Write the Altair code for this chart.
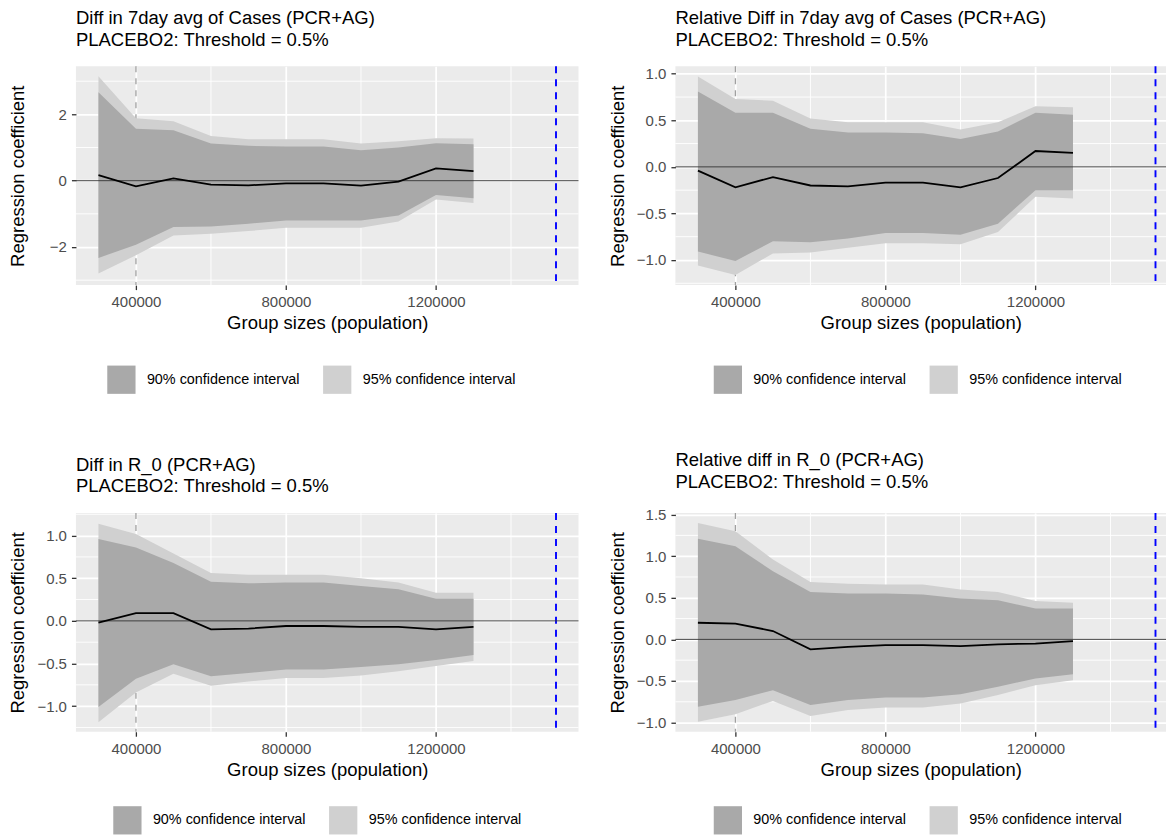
import altair as alt
import pandas as pd

# ---------------- data ----------------
group_sizes = [300000, 400000, 500000, 600000, 700000, 800000,
               900000, 1000000, 1100000, 1200000, 1300000]

x_breaks = [400000, 800000, 1200000]
x_minor = [600000, 1000000, 1400000]
x_domain_left = [240000, 1580000]
x_domain_right = [240000, 1548000]
ref_gray = [400000]
ref_blue = [1520000]
zero_line = [0]

ci_labels = ["90% confidence interval", "95% confidence interval"]
ci_colors = ["#A9A9A9", "#D0D0D0"]

# top-left: Diff in 7day avg of Cases
tl_title = ["Diff in 7day avg of Cases (PCR+AG)", "PLACEBO2: Threshold = 0.5%"]
tl_coef = [0.17, -0.17, 0.07, -0.12, -0.14, -0.08, -0.08, -0.15, -0.03, 0.37, 0.29]
tl_hi90 = [2.67, 1.57, 1.52, 1.12, 1.05, 1.03, 1.03, 0.92, 1.00, 1.13, 1.10]
tl_hi95 = [3.15, 1.88, 1.79, 1.35, 1.25, 1.25, 1.25, 1.12, 1.19, 1.28, 1.27]
tl_lo90 = [-2.33, -1.93, -1.40, -1.38, -1.30, -1.20, -1.20, -1.20, -1.05, -0.43, -0.53]
tl_lo95 = [-2.80, -2.25, -1.65, -1.60, -1.52, -1.42, -1.42, -1.42, -1.23, -0.57, -0.67]
tl_ydomain = [-3.15, 3.45]
tl_ybreaks = [-2, 0, 2]
tl_yminor = [-3, -1, 1, 3]

# top-right: Relative Diff in 7day avg of Cases
tr_title = ["Relative Diff in 7day avg of Cases (PCR+AG)", "PLACEBO2: Threshold = 0.5%"]
tr_coef = [-0.04, -0.22, -0.11, -0.20, -0.21, -0.17, -0.17, -0.22, -0.12, 0.17, 0.15]
tr_hi90 = [0.81, 0.58, 0.58, 0.41, 0.37, 0.37, 0.36, 0.30, 0.38, 0.58, 0.56]
tr_hi95 = [0.97, 0.73, 0.71, 0.52, 0.48, 0.48, 0.48, 0.40, 0.48, 0.65, 0.64]
tr_lo90 = [-0.91, -1.01, -0.80, -0.81, -0.77, -0.71, -0.71, -0.73, -0.61, -0.25, -0.25]
tr_lo95 = [-1.06, -1.16, -0.93, -0.92, -0.87, -0.82, -0.82, -0.83, -0.70, -0.32, -0.34]
tr_ydomain = [-1.27, 1.08]
tr_ybreaks = [-1.0, -0.5, 0.0, 0.5, 1.0]
tr_yminor = [-1.25, -0.75, -0.25, 0.25, 0.75]

# bottom-left: Diff in R_0
bl_title = ["Diff in R_0 (PCR+AG)", "PLACEBO2: Threshold = 0.5%"]
bl_coef = [-0.02, 0.09, 0.09, -0.10, -0.09, -0.06, -0.06, -0.07, -0.07, -0.10, -0.07]
bl_hi90 = [0.96, 0.86, 0.68, 0.46, 0.44, 0.45, 0.45, 0.41, 0.37, 0.26, 0.26]
bl_hi95 = [1.14, 1.02, 0.79, 0.56, 0.54, 0.54, 0.54, 0.50, 0.45, 0.33, 0.33]
bl_lo90 = [-1.01, -0.68, -0.51, -0.65, -0.61, -0.57, -0.57, -0.54, -0.51, -0.46, -0.40]
bl_lo95 = [-1.19, -0.84, -0.62, -0.76, -0.71, -0.67, -0.67, -0.64, -0.59, -0.53, -0.47]
bl_ydomain = [-1.30, 1.266]
bl_ybreaks = [-1.0, -0.5, 0.0, 0.5, 1.0]
bl_yminor = [-1.25, -0.75, -0.25, 0.25, 0.75, 1.25]

# bottom-right: Relative diff in R_0
br_title = ["Relative diff in R_0 (PCR+AG)", "PLACEBO2: Threshold = 0.5%"]
br_coef = [0.20, 0.19, 0.10, -0.12, -0.09, -0.07, -0.07, -0.08, -0.06, -0.05, -0.02]
br_hi90 = [1.21, 1.12, 0.82, 0.57, 0.55, 0.55, 0.54, 0.49, 0.47, 0.37, 0.37]
br_hi95 = [1.40, 1.30, 0.96, 0.69, 0.67, 0.66, 0.66, 0.60, 0.57, 0.46, 0.44]
br_lo90 = [-0.81, -0.73, -0.61, -0.79, -0.73, -0.70, -0.70, -0.66, -0.57, -0.47, -0.42]
br_lo95 = [-0.99, -0.90, -0.74, -0.92, -0.85, -0.82, -0.82, -0.77, -0.67, -0.55, -0.49]
br_ydomain = [-1.11, 1.52]
br_ybreaks = [-1.0, -0.5, 0.0, 0.5, 1.0, 1.5]
br_yminor = [-0.75, -0.25, 0.25, 0.75, 1.25]

FONT = "Liberation Sans"


def make_panel(title, coef, lo90, hi90, lo95, hi95, ydom, ybreaks, yminor,
               yfmt, xdom, width, legend_x, legend_y):
    df = pd.DataFrame({
        "size": group_sizes, "coef": coef,
        "lo90": lo90, "hi90": hi90, "lo95": lo95, "hi95": hi95,
        "ci90": ci_labels[0], "ci95": ci_labels[1],
    })
    xscale = alt.Scale(domain=xdom, nice=False, zero=False)
    yscale = alt.Scale(domain=ydom, nice=False, zero=False)
    xaxis = alt.Axis(values=x_breaks, format="d", title="Group sizes (population)")
    yaxis = alt.Axis(values=ybreaks, format=yfmt, title="Regression coefficient",
                     minExtent=44, maxExtent=44)
    color_scale = alt.Scale(domain=ci_labels, range=ci_colors)

    def X(f):
        return alt.X(f, type="quantitative", scale=xscale, axis=xaxis)

    def Y(f):
        return alt.Y(f, type="quantitative", scale=yscale, axis=yaxis)

    legend = alt.Legend(
        title=None, orient="none", legendX=legend_x, legendY=legend_y,
        direction="horizontal", symbolType="square", symbolSize=800,
        symbolStrokeWidth=0, symbolOpacity=1, labelFontSize=14.4,
        labelColor="black", labelFont=FONT, labelOffset=11, columnPadding=23,
        labelLimit=400, padding=0,
    )

    minor_x = alt.Chart(pd.DataFrame({"v": x_minor})).mark_rule(
        color="white", strokeWidth=0.9).encode(x=X("v"))
    minor_y = alt.Chart(pd.DataFrame({"v": yminor})).mark_rule(
        color="white", strokeWidth=0.9).encode(y=Y("v"))
    gray_line = alt.Chart(pd.DataFrame({"v": ref_gray})).mark_rule(
        color="#A0A0A0", strokeWidth=1.3, strokeDash=[6, 6]).encode(x=X("v"))
    blue_line = alt.Chart(pd.DataFrame({"v": ref_blue})).mark_rule(
        color="#0000FF", strokeWidth=1.9, strokeDash=[7, 6]).encode(x=X("v"))

    base = alt.Chart(df)
    area95 = base.mark_area(opacity=1).encode(
        x=X("size"), y=Y("lo95"), y2="hi95",
        color=alt.Color("ci95:N", scale=color_scale, legend=legend))
    area90 = base.mark_area(opacity=1).encode(
        x=X("size"), y=Y("lo90"), y2="hi90",
        color=alt.Color("ci90:N", scale=color_scale, legend=legend))
    hline = alt.Chart(pd.DataFrame({"v": zero_line})).mark_rule(
        color="#333333", strokeWidth=0.9).encode(y=Y("v"))
    line = base.mark_line(color="black", strokeWidth=1.8).encode(
        x=X("size"), y=Y("coef"))

    return alt.layer(
        minor_x, minor_y, gray_line, blue_line, area95, area90, hline, line
    ).properties(
        width=width, height=219,
        title=alt.TitleParams(text=title, anchor="start", frame="group",
                              fontSize=18.5, fontWeight="normal", color="black",
                              font=FONT, lineHeight=22, offset=16),
    )


tl = make_panel(tl_title, tl_coef, tl_lo90, tl_hi90, tl_lo95, tl_hi95,
                tl_ydomain, tl_ybreaks, tl_yminor, "d",
                x_domain_left, 503, 31, 299)
tr = make_panel(tr_title, tr_coef, tr_lo90, tr_hi90, tr_lo95, tr_hi95,
                tr_ydomain, tr_ybreaks, tr_yminor, ".1f",
                x_domain_right, 491, 38, 299)
bl = make_panel(bl_title, bl_coef, bl_lo90, bl_hi90, bl_lo95, bl_hi95,
                bl_ydomain, bl_ybreaks, bl_yminor, ".1f",
                x_domain_left, 503, 37, 293)
br = make_panel(br_title, br_coef, br_lo90, br_hi90, br_lo95, br_hi95,
                br_ydomain, br_ybreaks, br_yminor, ".1f",
                x_domain_right, 491, 38, 293)

row1 = alt.hconcat(tl, tr, spacing=29).resolve_scale(color="independent").resolve_legend(color="independent")
row2 = alt.hconcat(bl, br, spacing=29).resolve_scale(color="independent").resolve_legend(color="independent")

chart = alt.vconcat(row1, row2, spacing=57).resolve_scale(
    color="independent").resolve_legend(color="independent").properties(
    padding={"left": 1, "top": 0, "right": 0, "bottom": 0}
).configure(font=FONT).configure_view(
    fill="#EBEBEB", stroke=None
).configure_axis(
    labelFont=FONT, labelFontSize=15, labelColor="#4D4D4D",
    tickColor="#333333", tickSize=4.5, tickWidth=1.3, labelPadding=5,
    titleFont=FONT, titleFontSize=18.5, titleFontWeight="normal",
    titleColor="black", titlePadding=4, domain=False,
    gridColor="white", gridWidth=1.75,
)

chart.save("out.html", embed_options={"renderer": "svg", "actions": False})
